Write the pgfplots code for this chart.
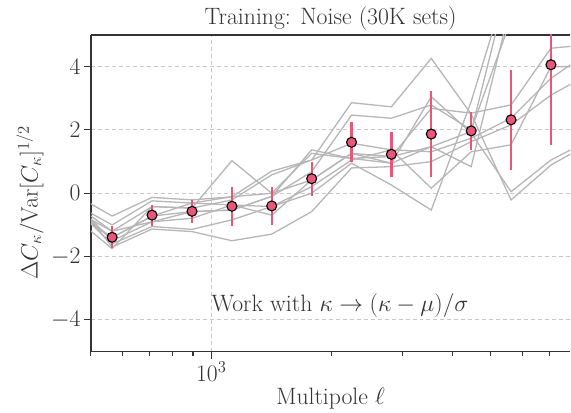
\RequirePackage{fix-cm}
\documentclass[border=0pt]{standalone}
\usepackage{pgfplots}
\usepackage{pgfplotstable}
\pgfplotsset{compat=1.18}

\definecolor{pinkc}{RGB}{232,86,122}
\definecolor{spine}{RGB}{51,51,51}
\definecolor{gridc}{RGB}{200,200,200}
\definecolor{simc}{RGB}{182,182,182}

% individual realisations (grey lines)
\pgfplotstableread{
l    a     b     c     d     e     f     g     h     i     j
449  0.00 -0.30 -0.50 -0.60 -0.20 -0.40 -0.10 -0.70 -0.50 -0.30
565 -0.72 -1.00 -1.20 -1.40 -1.50 -1.60 -1.70 -1.75 -1.40 -1.20
711 -0.13 -0.24 -0.42 -0.72 -0.90 -1.05 -1.13 -0.42 -0.72 -0.90
895 -0.21 -0.31 -0.47 -0.58 -0.79 -1.14 -1.21 -0.47 -0.31 -0.58
1126 -0.11 -0.37 1.03 -0.53 -0.37 -0.84 -1.50 -0.21 -0.11 -0.53
1416 0.70 -0.42  0.00 -0.10 -0.69 -0.42 -1.29  0.58  0.00 -0.10
1782 1.05  0.00  1.26  0.68  0.42  0.21 -0.58  1.05  0.42  1.37
2242 2.86  0.95  1.10  2.47  1.26  1.05  0.80  1.58  1.26  1.10
2820 2.73  0.26  0.95  2.37  1.16  1.37  0.84  1.37  0.95  1.16
3548 4.26 -0.53  3.05  2.79  2.68  1.31  1.00  0.16  1.47  1.47
4464 2.50  2.90  1.90  2.00  2.53  1.74  1.63  1.31  0.84  1.95
5616 -0.21 7.00  0.05  5.50  2.79  2.37  2.16  1.53  6.00  7.00
7066 0.89  9.00  1.05  8.00  4.58  3.63  3.10  4.00  8.00  9.00
8890 1.60 10.00  1.70  9.00  4.70  4.50  3.80  4.00  9.00 10.00
}\sims

% mean and spread of the realisations
\pgfplotstableread{
l    m     e
565  -1.39 0.35
711  -0.69 0.33
895  -0.57 0.37
1126 -0.41 0.62
1416 -0.40 0.60
1782  0.46 0.54
2242  1.61 0.63
2820  1.23 0.72
3548  1.87 1.35
4464  1.97 0.60
5616  2.32 1.57
7066  4.06 2.53
}\meanerr

\begin{document}
\begin{tikzpicture}[font=\fontsize{23.8}{28}\selectfont]
\begin{axis}[
    xmode=log,
    scale only axis,
    width=480bp, height=317bp,
    xmin=500, xmax=7900,
    ymin=-5, ymax=5,
    xtick={1000},
    minor xtick={500,600,700,800,900,2000,3000,4000,5000,6000,7000},
    ytick={-4,-2,0,2,4},
    xtick pos=lower, ytick pos=left,
    axis y line*=left,
    tick align=outside,
    major tick length=7bp, minor tick length=4bp,
    tick style={spine, line width=1.1bp},
    axis line style={spine, line width=1.4bp},
    xmajorgrids, ymajorgrids,
    grid style={gridc, line width=0.9bp, dash pattern=on 4bp off 3bp},
    tick label style={text=spine},
    label style={text=spine},
    title={Training: Noise (30K sets)},
    title style={text=spine, at={(axis description cs:0.5,1)}, anchor=base, inner sep=0pt, yshift=4bp},
    xlabel={Multipole $\ell$},
    ylabel={$\Delta C_\kappa/\mathrm{Var}[C_\kappa]^{1/2}$},
    ylabel style={at={(axis description cs:-0.127,0.47)}, anchor=center},
]
\foreach \c in {a,b,c,d,e,f,g,h,i,j}{
  \addplot[simc, line width=1.3bp] table[x=l, y=\c] {\sims};
}
\addplot[only marks, mark=none, forget plot,
    error bars/.cd, y dir=both, y explicit, error mark=none,
    error bar style={draw=pinkc, solid, line width=2.2bp, line cap=butt}]
    table[x=l, y=m, y error=e] {\meanerr};
\addplot[only marks, mark=*, mark size=5bp,
    mark options={fill=pinkc, draw=black, line width=1.1bp}]
    table[x=l, y=m] {\meanerr};
\node[anchor=base west, inner sep=0pt, text=spine] at (axis cs:1000,-3.73)
    {Work with $\kappa\rightarrow(\kappa-\mu)/\sigma$};
\end{axis}
\path (current axis.south west) ++(-91bp,-61bp);
\path (current axis.north east) ++(0,35bp);
\end{tikzpicture}
\end{document}
